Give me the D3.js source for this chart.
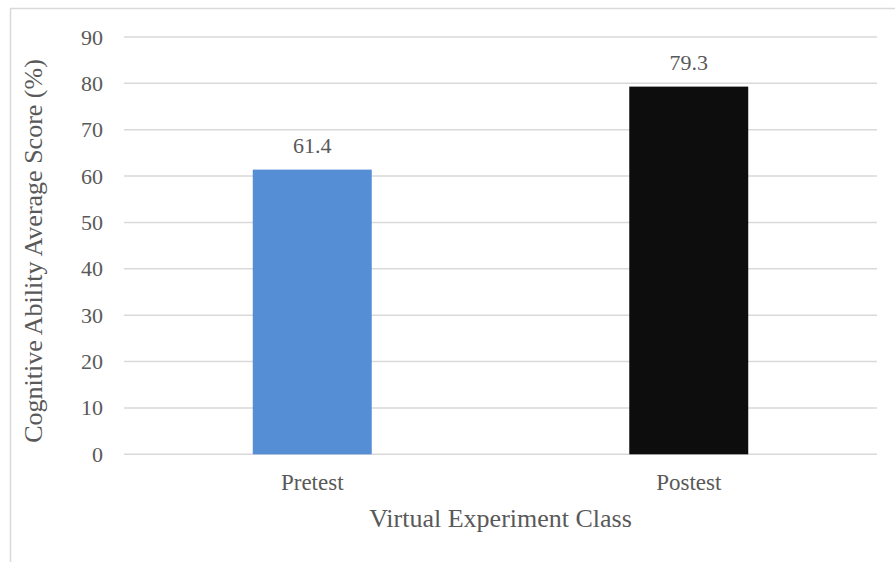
<!DOCTYPE html>
<html>
<head>
<meta charset="utf-8">
<script src="https://cdn.jsdelivr.net/npm/d3@7"></script>
<style>
  html, body { margin: 0; padding: 0; background: #fff; }
  svg { display: block; }
  text { font-family: "Liberation Serif", "Times New Roman", serif; fill: #595959; }
</style>
</head>
<body>
<svg id="chart" width="895" height="562"></svg>
<script>
// Average cognitive ability score, virtual experiment class
const categories = ["Pretest", "Postest"];
const scores = [61.4, 79.3];
const barColors = ["#558ed5", "#0d0d0d"];
const yTicks = [0, 10, 20, 30, 40, 50, 60, 70, 80, 90];
const xTitle = "Virtual Experiment Class";
const yTitle = "Cognitive Ability Average Score (%)";

const W = 895, H = 562;
const plot = { left: 124, right: 877, top: 37, bottom: 454.3 };

const svg = d3.select("#chart");

// chart frame
svg.append("rect")
  .attr("x", 10.5).attr("y", 8.5)
  .attr("width", 900).attr("height", 600)
  .attr("fill", "none").attr("stroke", "#d9d9d9").attr("stroke-width", 1.5);

const x = d3.scaleBand().domain(categories).range([plot.left, plot.right]).padding(0);
const y = d3.scaleLinear().domain([0, 90]).range([plot.bottom, plot.top]);

// horizontal gridlines
svg.append("g")
  .selectAll("line")
  .data(yTicks)
  .join("line")
  .attr("x1", plot.left).attr("x2", plot.right)
  .attr("y1", d => y(d)).attr("y2", d => y(d))
  .attr("stroke", "#d9d9d9").attr("stroke-width", 1.5);

// y axis labels
const yAxis = d3.axisLeft(y).tickValues(yTicks).tickSize(0).tickPadding(21);
const gy = svg.append("g").attr("transform", `translate(${plot.left},0)`).call(yAxis);
gy.select(".domain").remove();
gy.selectAll("text")
  .attr("font-family", "Liberation Serif").attr("font-size", 22).attr("fill", "#595959");

// bars
const barW = x.bandwidth() * 0.316;
svg.append("g")
  .selectAll("rect")
  .data(categories)
  .join("rect")
  .attr("x", d => x(d) + x.bandwidth() / 2 - barW / 2)
  .attr("width", barW)
  .attr("y", (d, i) => y(scores[i]))
  .attr("height", (d, i) => y(0) - y(scores[i]))
  .attr("fill", (d, i) => barColors[i]);

// value labels
svg.append("g")
  .selectAll("text")
  .data(categories)
  .join("text")
  .attr("x", d => x(d) + x.bandwidth() / 2)
  .attr("y", (d, i) => y(scores[i]) - 16.5)
  .attr("text-anchor", "middle")
  .attr("font-size", 22)
  .text((d, i) => scores[i].toFixed(1));

// x axis category labels
const xAxis = d3.axisBottom(x).tickSize(0).tickPadding(0);
const gx = svg.append("g").attr("transform", `translate(0,${plot.bottom})`).call(xAxis);
gx.select(".domain").remove();
gx.selectAll("text")
  .attr("font-family", "Liberation Serif").attr("font-size", 23).attr("fill", "#595959")
  .attr("dy", null).attr("y", 36);

// axis titles
svg.append("text")
  .attr("x", (plot.left + plot.right) / 2).attr("y", 527)
  .attr("text-anchor", "middle").attr("font-size", 26)
  .text(xTitle);

svg.append("text")
  .attr("transform", `translate(42,251) rotate(-90)`)
  .attr("text-anchor", "middle").attr("font-size", 26)
  .text(yTitle);
</script>
</body>
</html>
